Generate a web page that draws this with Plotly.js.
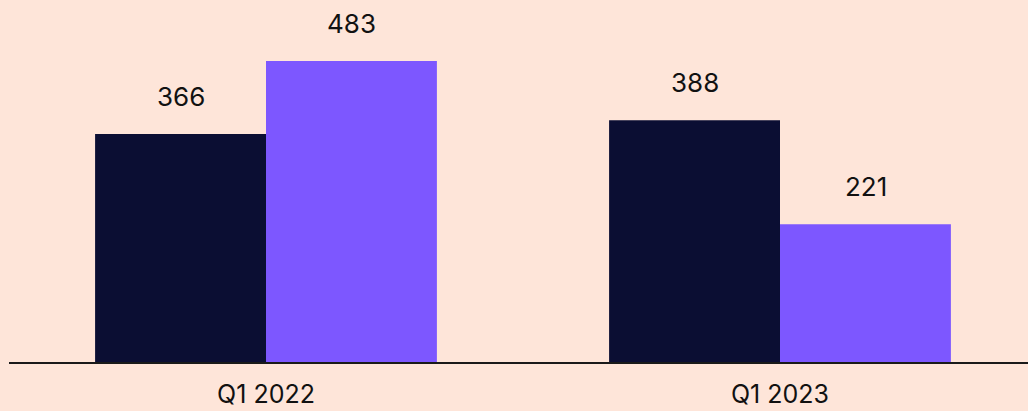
<!DOCTYPE html>
<html>
<head>
<meta charset="utf-8">
<script src="https://cdn.plot.ly/plotly-3.0.1.min.js"></script>
<style>
  html, body { margin: 0; padding: 0; background: #fee5d9; }
  #chart { width: 1028px; height: 411px; }
</style>
</head>
<body>
<div id="chart"></div>
<script>
const categories = ["Q1 2022", "Q1 2023"];
const seriesA = [366, 388];
const seriesB = [483, 221];
const seriesNames = ["Series A", "Series B"];
const colors = ["#0b0e33", "#7d57ff"];

const font = "Inter, 'Open Sans', sans-serif";
const barHalf = 85.5;

const traces = [
  { type: "bar", x: categories, y: seriesA, name: seriesNames[0], marker: { color: colors[0] }, hoverinfo: "none" },
  { type: "bar", x: categories, y: seriesB, name: seriesNames[1], marker: { color: colors[1] }, hoverinfo: "none" }
];

const annotations = [];
[seriesA, seriesB].forEach((vals, si) => {
  vals.forEach((v, i) => {
    annotations.push({
      x: categories[i], y: v, xref: "x", yref: "y",
      text: String(v), showarrow: false,
      xshift: si === 0 ? -barHalf : barHalf,
      yanchor: "bottom", yshift: 20,
      font: { family: font, size: 26, color: "#111111" }
    });
  });
});

const layout = {
  width: 1028, height: 411,
  margin: { l: 9, r: 0, t: 0, b: 49 },
  paper_bgcolor: "#fee5d9",
  plot_bgcolor: "#fee5d9",
  showlegend: false,
  barmode: "group",
  bargap: 0.335,
  bargroupgap: 0,
  xaxis: {
    type: "category",
    range: [-0.5, 1.4825],
    showline: true, linecolor: "#1a1a1a", linewidth: 2,
    showgrid: false, zeroline: false,
    ticks: "outside", ticklen: 9, tickcolor: "rgba(0,0,0,0)",
    tickfont: { family: font, size: 25, color: "#111111" }
  },
  yaxis: {
    range: [0, 581],
    visible: false, showgrid: false, zeroline: false
  },
  annotations: annotations,
  font: { family: font }
};

Plotly.newPlot("chart", traces, layout, { displayModeBar: false, staticPlot: true });
</script>
</body>
</html>
